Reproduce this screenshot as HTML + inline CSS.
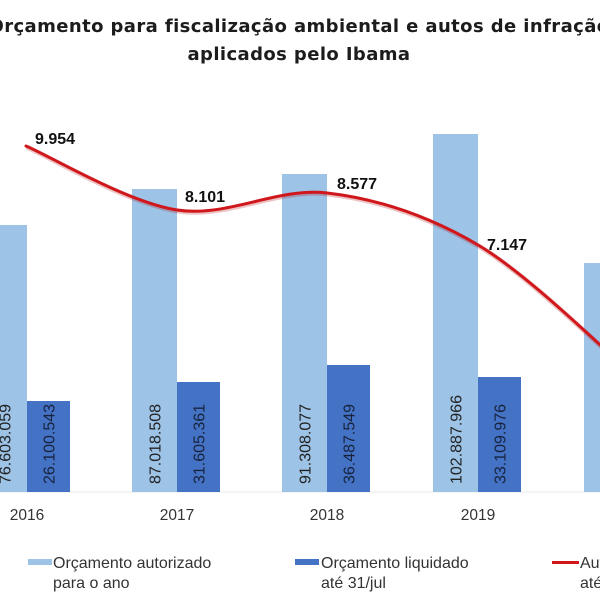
<!DOCTYPE html>
<html>
<head>
<meta charset="utf-8">
<style>
  html, body { margin:0; padding:0; background:#ffffff; }
  body { width:600px; height:600px; overflow:hidden; }
  svg { display:block; }
</style>
</head>
<body>
<svg width="600" height="600" viewBox="0 0 600 600" xmlns="http://www.w3.org/2000/svg">
  <rect x="0" y="0" width="600" height="600" fill="#ffffff"/>

  <!-- Title -->
  <g font-family="'DejaVu Sans', 'Liberation Sans', sans-serif" font-weight="bold" font-size="18" fill="#1c1c1c" text-anchor="middle" letter-spacing="0.4">
    <text x="299" y="32">Orçamento para fiscalização ambiental e autos de infração</text>
    <text x="299" y="60">aplicados pelo Ibama</text>
  </g>

  <!-- baseline -->
  <line x1="0" y1="492" x2="600" y2="492" stroke="#e8e8e8" stroke-width="1"/>

  <!-- Light bars (Orçamento autorizado) -->
  <g fill="#9dc3e6">
    <rect x="-18" y="225" width="45" height="267"/>
    <rect x="132" y="189" width="45" height="303"/>
    <rect x="282" y="174" width="45" height="318"/>
    <rect x="433" y="134" width="45" height="358"/>
    <rect x="584" y="263" width="45" height="229"/>
  </g>
  <!-- Dark bars (Orçamento liquidado) -->
  <g fill="#4472c4">
    <rect x="27" y="401" width="43" height="91"/>
    <rect x="177" y="382" width="43" height="110"/>
    <rect x="327" y="365" width="43" height="127"/>
    <rect x="478" y="377" width="43" height="115"/>
  </g>

  <!-- Bar value labels (rotated) -->
  <g font-family="'Liberation Sans', sans-serif" font-size="16" fill="#222222">
    <text transform="translate(10.5,484) rotate(-90)">76.603.059</text>
    <text transform="translate(160.5,484) rotate(-90)">87.018.508</text>
    <text transform="translate(310.5,484) rotate(-90)">91.308.077</text>
    <text transform="translate(461.5,484) rotate(-90)">102.887.966</text>
  </g>
  <g font-family="'Liberation Sans', sans-serif" font-size="16" fill="#17233d">
    <text transform="translate(54.5,484) rotate(-90)">26.100.543</text>
    <text transform="translate(204.5,484) rotate(-90)">31.605.361</text>
    <text transform="translate(354.5,484) rotate(-90)">36.487.549</text>
    <text transform="translate(505.5,484) rotate(-90)">33.109.976</text>
  </g>

  <!-- Red smoothed line -->
  <path d="M26,146 C51.2,156.7 126.8,202.2 177,210 C227.2,217.8 276.8,187.2 327,193 C377.2,198.8 427.8,215.5 478,245 C528.2,274.5 603,349.2 628,370"
        fill="none" stroke="#b51215" stroke-opacity="0.25" stroke-width="5" transform="translate(0.5,1)"/>
  <path d="M26,146 C51.2,156.7 126.8,202.2 177,210 C227.2,217.8 276.8,187.2 327,193 C377.2,198.8 427.8,215.5 478,245 C528.2,274.5 603,349.2 628,370"
        fill="none" stroke="#d0171c" stroke-width="3" stroke-linecap="round"/>

  <!-- Line value labels -->
  <g font-family="'Liberation Sans', sans-serif" font-weight="bold" font-size="16" fill="#111111">
    <text x="35" y="144">9.954</text>
    <text x="185" y="202">8.101</text>
    <text x="337" y="189">8.577</text>
    <text x="487" y="250">7.147</text>
  </g>

  <!-- Year labels -->
  <g font-family="'Liberation Sans', sans-serif" font-size="15.5" fill="#333333" text-anchor="middle">
    <text x="27" y="520">2016</text>
    <text x="177" y="520">2017</text>
    <text x="327" y="520">2018</text>
    <text x="478" y="520">2019</text>
    <text x="628" y="520">2020</text>
  </g>

  <!-- Legend -->
  <rect x="28" y="559" width="24" height="6" fill="#9dc3e6"/>
  <rect x="295" y="559" width="24" height="6" fill="#4472c4"/>
  <rect x="552" y="561" width="27" height="3" fill="#d0171c"/>
  <g font-family="'Liberation Sans', sans-serif" font-size="16" fill="#333333">
    <text x="53" y="568">Orçamento autorizado</text>
    <text x="53" y="588">para o ano</text>
    <text x="321" y="568">Orçamento liquidado</text>
    <text x="321" y="588">até 31/jul</text>
    <text x="580" y="568">Autos de infração</text>
    <text x="580" y="588">até 31/jul</text>
  </g>
</svg>
</body>
</html>
